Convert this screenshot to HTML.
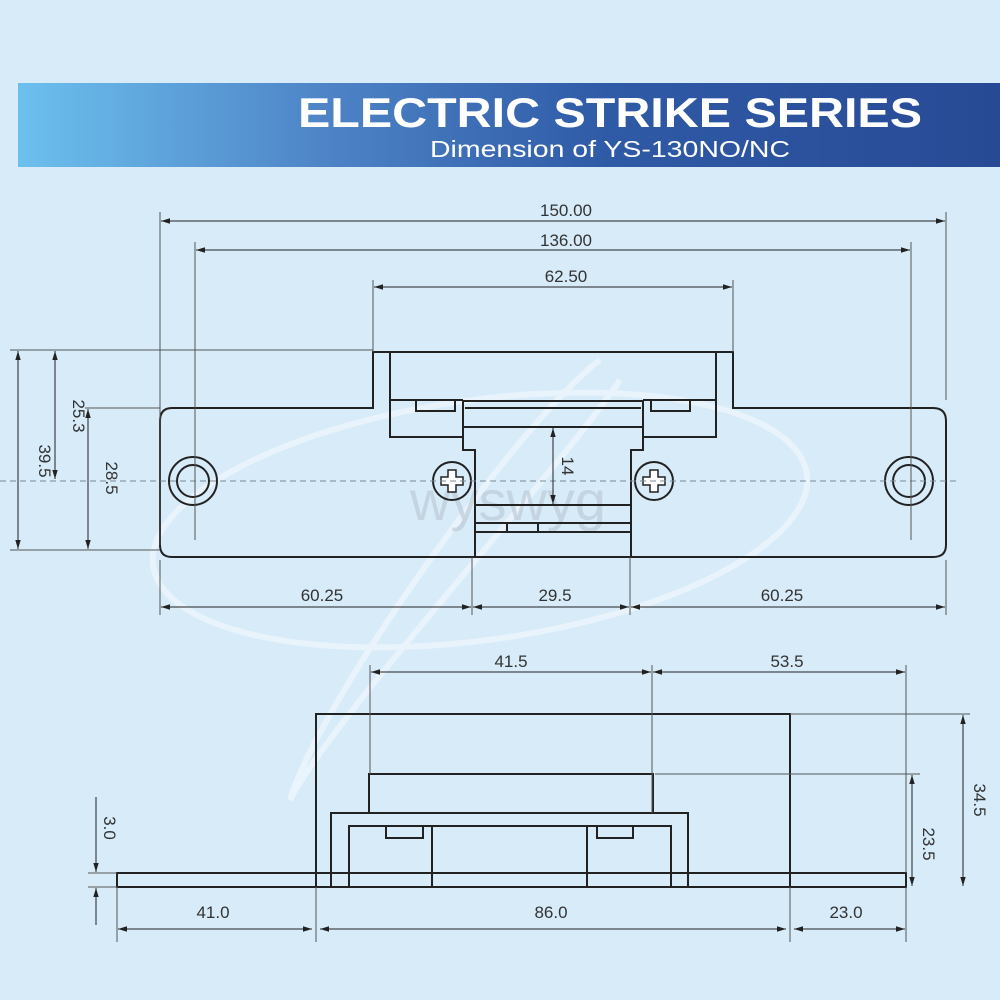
<!DOCTYPE html>
<html><head><meta charset="utf-8"><style>
html,body{margin:0;padding:0;background:#d7ebf9;}
svg{display:block;}
text{font-family:"Liberation Sans",sans-serif;}
</style></head><body>
<svg width="1000" height="1000" viewBox="0 0 1000 1000" xmlns="http://www.w3.org/2000/svg">
<defs>
<linearGradient id="bg" x1="0" x2="1" y1="0" y2="0">
<stop offset="0" stop-color="#6cc0ee"/><stop offset="0.3" stop-color="#4f86c8"/><stop offset="0.6" stop-color="#2f5aa6"/><stop offset="1" stop-color="#284a95"/>
</linearGradient>
<marker id="a" viewBox="0 0 10 10" refX="10" refY="5" markerWidth="9" markerHeight="9" orient="auto-start-reverse" markerUnits="userSpaceOnUse"><path d="M0,2 L10,5 L0,8 z" fill="#222"/></marker>
</defs>
<rect width="1000" height="1000" fill="#d7ebf9"/>
<rect x="18" y="83" width="982" height="84" fill="url(#bg)"/>
<text x="610" y="127" fill="#fff" font-size="42" font-weight="bold" text-anchor="middle" textLength="624" lengthAdjust="spacingAndGlyphs">ELECTRIC STRIKE SERIES</text>
<text x="610" y="157" fill="#fff" font-size="23" text-anchor="middle" textLength="360" lengthAdjust="spacingAndGlyphs">Dimension of YS-130NO/NC</text>

<!-- watermark -->
<g fill="none" stroke="#eef6fc" stroke-width="6" opacity="0.8">
<ellipse cx="480" cy="520" rx="330" ry="120" transform="rotate(-8 480 520)"/>
<path d="M600 360 C520 420 320 700 290 800 C330 720 560 470 620 380"/>
</g>
<text x="410" y="520" font-size="56" fill="#b9c6d0" opacity="0.6">wyswyg</text>

<g stroke="#222" stroke-width="2" fill="none">
<path d="M172 408 H373 V352 H733 V408 H933 Q946 408 946 421 V545 Q946 557 933 557 H172 Q160 557 160 545 V421 Q160 408 172 408 Z"/>
<path d="M390 353 V437 H463 M716 353 V437 H643"/>
<path d="M390 400 H463 M643 400 H716"/>
<path d="M416 400 V411 H455 V400 M651 400 V411 H690 V400"/>
<path d="M463 401 H643 M465 408 H641 M463 427 H643"/>
<path d="M463 401 V450 H475 V557 M643 401 V450 H631 V557"/>
<path d="M475 505 H631 M475 523 H631 M475 532 H631 M507 523 V532 M538 523 V532"/>
<circle cx="193" cy="481" r="24"/><circle cx="193" cy="481" r="16"/>
<circle cx="909" cy="481" r="24"/><circle cx="909" cy="481" r="16"/>
<circle cx="452" cy="481" r="19"/><circle cx="654" cy="481" r="19"/>
</g>
<g stroke="#222" stroke-width="1.5" fill="#fff">
<path d="M448 470 h8 v7 h7 v8 h-7 v7 h-8 v-7 h-7 v-8 h7 z"/>
<path d="M650 470 h8 v7 h7 v8 h-7 v7 h-8 v-7 h-7 v-8 h7 z"/>
</g>
<line x1="0" y1="481" x2="960" y2="481" stroke="#7a8a96" stroke-width="1" stroke-dasharray="6,4"/>

<!-- top dims -->
<g stroke="#555" stroke-width="1">
<path d="M160 212 V545 M946 212 V400 M195 242 V540 M911 242 V540 M373 280 V352 M733 280 V352"/>
<path d="M10 350 H373 M85 408 H160 M10 550 H160"/>
<path d="M160 560 V615 M946 560 V615 M472 557 V615 M630 557 V615"/>
</g>
<g stroke="#222" stroke-width="1" marker-start="url(#a)" marker-end="url(#a)">
<line x1="161" y1="221" x2="945" y2="221"/>
<line x1="196" y1="250" x2="910" y2="250"/>
<line x1="374" y1="287" x2="732" y2="287"/>
<line x1="161" y1="607" x2="471" y2="607"/>
<line x1="473" y1="607" x2="629" y2="607"/>
<line x1="631" y1="607" x2="945" y2="607"/>
<line x1="18" y1="351" x2="18" y2="549"/>
<line x1="55" y1="351" x2="55" y2="479"/>
<line x1="88" y1="409" x2="88" y2="549"/>
<line x1="553" y1="428" x2="553" y2="504"/>
</g>
<g font-size="17" fill="#333" text-anchor="middle">
<text x="566" y="216">150.00</text>
<text x="566" y="246">136.00</text>
<text x="566" y="282">62.50</text>
<text x="322" y="601">60.25</text>
<text x="555" y="601">29.5</text>
<text x="782" y="601">60.25</text>
<text transform="translate(39 461) rotate(90)">39.5</text>
<text transform="translate(73 416) rotate(90)">25.3</text>
<text transform="translate(106 478) rotate(90)">28.5</text>
<text transform="translate(562 466) rotate(90)">14</text>
</g>

<!-- side view -->
<g stroke="#222" stroke-width="2" fill="none">
<rect x="117" y="873" width="789" height="14"/>
<path d="M316 887 V714 H790 V887"/>
<rect x="369" y="774" width="284" height="39"/>
<path d="M331 887 V813 H688 V887"/>
<path d="M349 887 V826 H671 V887"/>
<path d="M432 826 V887 M587 826 V887"/>
<path d="M386 826 V838 H423 V826 M597 826 V838 H633 V826"/>
</g>
<g stroke="#555" stroke-width="1">
<path d="M370 665 V774 M652 665 V813 M906 665 V873"/>
<path d="M790 714 H970 M655 774 H920"/>
<path d="M117 887 V942 M316 887 V942 M790 887 V942 M906 887 V942"/>
<path d="M88 873 H117 M88 887 H117"/>
</g>
<g stroke="#222" stroke-width="1" marker-start="url(#a)" marker-end="url(#a)">
<line x1="371" y1="672" x2="651" y2="672"/>
<line x1="653" y1="672" x2="905" y2="672"/>
<line x1="963" y1="715" x2="963" y2="886"/>
<line x1="912" y1="775" x2="912" y2="886"/>
<line x1="118" y1="929" x2="312" y2="929"/>
<line x1="320" y1="929" x2="786" y2="929"/>
<line x1="794" y1="929" x2="905" y2="929"/>
</g>
<g stroke="#222" stroke-width="1">
<line x1="96" y1="797" x2="96" y2="872" marker-end="url(#a)"/>
<line x1="96" y1="925" x2="96" y2="888" marker-end="url(#a)"/>
</g>
<g font-size="17" fill="#333" text-anchor="middle">
<text x="511" y="667">41.5</text>
<text x="787" y="667">53.5</text>
<text x="213" y="918">41.0</text>
<text x="551" y="918">86.0</text>
<text x="846" y="918">23.0</text>
<text transform="translate(974 800) rotate(90)">34.5</text>
<text transform="translate(923 844) rotate(90)">23.5</text>
<text transform="translate(104 828) rotate(90)">3.0</text>
</g>
</svg>
</body></html>
